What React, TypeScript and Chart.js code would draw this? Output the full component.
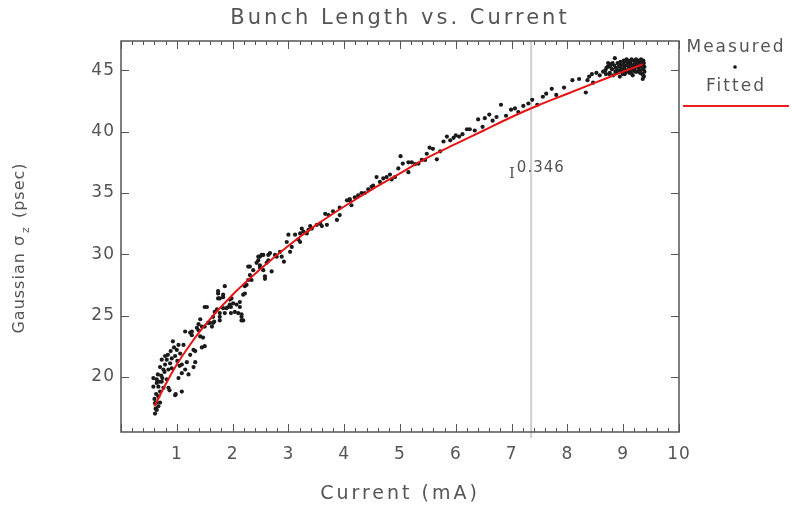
import React, { useEffect, useRef } from "react";
import { Chart, registerables } from "chart.js";

Chart.register(...registerables);

// ---- Data ----
const currentMeasured: number[] = [
  0.62, 0.67, 0.64, 0.61, 0.64, 0.61, 0.70, 0.67, 0.70, 0.58, 0.67, 0.64, 0.58, 0.64, 0.73, 0.76, 0.85, 0.87, 0.82, 0.98,
  1.09, 0.97, 1.03, 1.09, 1.21, 1.15, 0.70, 0.76, 0.85, 0.91, 0.79, 1.09, 0.73, 0.82, 0.88, 0.79, 0.91, 0.97, 1.06, 1.00,
  1.03, 1.12, 0.93, 1.18, 1.33, 1.30, 1.24, 1.30, 1.33, 1.50, 1.45, 1.24, 1.27, 1.42, 1.47, 1.15, 1.27, 1.39, 1.36, 1.39,
  1.45, 1.50, 1.63, 1.56, 1.59, 1.65, 1.67, 1.42, 1.77, 1.65, 1.77, 1.68, 1.72, 1.77, 1.86, 1.97, 1.50, 1.54, 1.83, 1.89,
  1.92, 1.97, 2.04, 2.10, 2.16, 2.16, 2.16, 2.19, 1.95, 2.01, 2.07, 2.13, 1.95, 1.77, 1.74, 1.98, 1.83, 1.83, 1.74, 2.13,
  2.19, 2.22, 1.74, 1.86, 2.22, 2.25, 2.34, 2.28, 2.31, 2.58, 2.58, 2.37, 2.55, 2.70, 2.49, 2.28, 2.31, 2.49, 2.43, 2.61,
  2.46, 2.64, 2.92, 2.49, 2.46, 2.79, 2.88, 2.52, 2.55, 2.64, 2.76, 2.67, 2.85, 3.03, 3.06, 2.97, 3.21, 3.18, 3.00, 3.12,
  3.21, 3.33, 3.27, 3.36, 3.24, 3.42, 3.39, 3.60, 3.51, 3.69, 3.57, 3.87, 3.72, 3.92, 3.66, 3.80, 3.92, 4.13, 4.05, 4.10,
  4.10, 4.19, 4.25, 4.31, 4.37, 4.43, 4.49, 4.52, 4.64, 4.85, 4.70, 4.58, 4.76, 4.91, 4.82, 5.15, 4.97, 5.27, 5.05, 5.33,
  5.15, 5.21, 5.39, 5.45, 5.66, 5.01, 5.48, 5.72, 5.59, 5.53, 5.78, 5.90, 5.96, 5.84, 6.06, 6.00, 6.12, 6.34, 6.20, 6.25,
  6.48, 6.66, 6.40, 6.52, 6.73, 6.90, 6.60, 7.12, 6.99, 7.06, 7.21, 6.81, 7.46, 7.30, 7.37, 7.56, 7.80, 7.62, 8.33, 7.72,
  7.94, 8.46, 8.09, 8.36, 8.21, 8.39, 8.58, 8.44, 8.52, 8.76, 8.64, 8.70,
  0.60, 0.63, 0.66, 0.72, 0.78, 0.84, 0.89, 0.95, 1.01, 1.05, 0.74, 0.69,
  8.68, 8.72, 8.75, 8.78, 8.80, 8.82, 8.84, 8.85, 8.87, 8.88, 8.90, 8.91, 8.93, 8.94, 8.95, 8.97, 8.98, 9.00, 9.01, 9.02,
  9.03, 9.05, 9.06, 9.07, 9.08, 9.10, 9.11, 9.12, 9.13, 9.14, 9.15, 9.16, 9.17, 9.18, 9.19, 9.20, 9.21, 9.22, 9.23, 9.24,
  9.25, 9.26, 9.27, 9.28, 9.29, 9.30, 9.31, 9.32, 9.33, 9.34, 9.35, 9.36, 9.36, 9.37, 9.37, 9.38, 9.38, 9.02, 8.96, 9.09,
  9.04, 9.13, 9.19, 9.27, 9.33, 8.92, 8.86, 8.99, 9.06, 9.15, 9.22, 9.30, 9.35, 9.36, 8.81, 8.76, 8.73, 8.69,
];

const sigmaMeasured: number[] = [
  17.4, 17.6, 17.9, 17.0, 17.3, 17.85, 17.9, 18.4, 18.8, 19.2, 19.2, 19.5, 19.9, 19.8, 19.6, 19.1, 19.1, 18.9, 19.8, 18.6,
  18.8, 18.5, 19.9, 20.3, 20.2, 20.6, 20.8, 20.6, 20.6, 20.7, 21.0, 21.0, 21.4, 21.4, 21.1, 21.7, 21.5, 21.7, 21.9, 22.2,
  22.6, 22.6, 22.9, 21.2, 21.2, 20.8, 21.8, 22.2, 22.1, 22.5, 22.4, 23.6, 23.4, 23.3, 23.2, 23.7, 23.7, 23.8, 24.0, 24.3,
  24.1, 24.1, 24.1, 24.4, 24.4, 24.4, 24.5, 24.7, 24.6, 24.9, 24.9, 25.3, 25.5, 25.2, 25.2, 25.2, 25.7, 25.7, 25.6, 25.6,
  25.7, 25.7, 25.3, 25.2, 25.1, 24.9, 24.6, 24.6, 25.9, 26.0, 25.9, 26.1, 26.3, 26.4, 26.4, 26.4, 26.5, 26.7, 26.8, 25.7,
  26.7, 26.8, 27.0, 27.4, 27.4, 27.5, 27.9, 27.9, 28.3, 28.0, 28.2, 28.7, 28.7, 28.6, 28.9, 29.0, 29.0, 29.1, 29.3, 29.3,
  29.5, 29.5, 29.4, 29.8, 29.8, 29.8, 29.8, 29.95, 29.95, 29.95, 29.95, 30.1, 30.2, 30.2, 30.6, 31.0, 31.0, 31.2, 31.6, 31.6,
  31.7, 31.7, 31.85, 32.0, 32.1, 32.1, 32.3, 32.3, 32.4, 32.4, 32.5, 32.8, 33.2, 33.2, 33.3, 33.5, 33.8, 34.0, 34.4, 34.4,
  34.5, 34.65, 34.8, 35.0, 35.0, 35.3, 35.5, 35.6, 35.9, 36.1, 36.2, 36.3, 36.3, 36.3, 36.5, 36.7, 37.0, 37.35, 37.4, 37.4,
  37.5, 37.5, 37.7, 37.7, 37.75, 38.0, 38.2, 38.4, 38.6, 38.7, 39.2, 39.3, 39.5, 39.6, 39.6, 39.7, 39.8, 40.1, 40.2, 40.2,
  40.4, 40.9, 41.0, 41.1, 41.2, 41.3, 41.4, 41.6, 41.8, 41.9, 42.1, 42.2, 42.2, 42.3, 42.6, 42.85, 43.0, 43.1, 43.2, 43.5,
  43.6, 44.0, 44.2, 44.2, 44.3, 44.5, 44.6, 44.7, 44.8, 44.8, 44.9, 45.2,
  18.2, 18.6, 20.2, 20.1, 20.4, 21.8, 22.1, 22.4, 21.3, 20.9, 19.9, 19.6,
  45.0, 45.3, 44.7, 45.5, 45.1, 44.6, 45.4, 46.0, 45.2, 44.8, 45.6, 45.0, 45.3, 44.5, 45.7, 45.1, 44.9, 45.5, 45.8, 45.2,
  44.7, 45.4, 45.9, 45.0, 45.6, 45.3, 44.8, 45.7, 45.1, 45.5, 45.9, 45.2, 44.6, 45.4, 45.8, 45.0, 45.6, 45.3, 45.9, 44.9,
  45.5, 45.7, 45.2, 45.8, 45.4, 45.0, 45.6, 45.9, 45.3, 44.7, 45.5, 45.8, 45.1, 44.5, 45.6, 44.9, 45.3, 45.7, 45.4, 45.8,
  45.0, 45.7, 45.1, 45.6, 45.7, 45.5, 44.9, 44.7, 44.9, 44.8, 44.9, 44.8, 44.3, 44.6, 45.6, 45.3, 45.6, 44.7,
];

const fitCurrent: number[] = [0.6, 0.8, 1, 1.25, 1.5, 2, 2.5, 3, 3.5, 4, 4.5, 5, 5.5, 6, 6.5, 7, 7.5, 8, 8.5, 9, 9.35];
const fitSigma: number[] = [17.6, 19.4, 21.0, 22.7, 24.2, 26.7, 28.8, 30.7, 32.4, 33.9, 35.3, 36.6, 37.9, 39.0, 40.1, 41.2, 42.2, 43.1, 44.0, 44.9, 45.5];

const markerCurrent = 7.35;
const exponentLabel = "0.346";
const exponentAt = { x: 6.97, y: 36.7 };

const titleText = "Bunch Length vs. Current";
const xTitleText = "Current (mA)";
const xTicks: number[] = [1, 2, 3, 4, 5, 6, 7, 8, 9, 10];
const yTicks: number[] = [20, 25, 30, 35, 40, 45];
const xMin = 0, xMax = 10, xMinorStep = 0.2;
const yMin = 15.5, yMax = 47.4;

const FONT = "'DejaVu Sans', sans-serif";
const TEXT = "#555";

const decor = {
  id: "decor",
  beforeLayout(chart: any) {
    chart.ctx.letterSpacing = "1px";
  },
  beforeDraw(chart: any) {
    const { ctx, width, height } = chart;
    ctx.letterSpacing = "1px";
    ctx.save();
    ctx.fillStyle = "#fff";
    ctx.fillRect(0, 0, width, height);
    ctx.restore();
  },
  beforeDatasetsDraw(chart: any) {
    const { ctx, chartArea: a, scales } = chart;
    const px = scales.x.getPixelForValue(markerCurrent);
    ctx.save();
    ctx.strokeStyle = "#cfcfcf";
    ctx.lineWidth = 2;
    ctx.beginPath();
    ctx.moveTo(px, a.top);
    ctx.lineTo(px, a.bottom + 6);
    ctx.stroke();
    ctx.restore();
  },
  afterDraw(chart: any) {
    const { ctx, chartArea: a, scales } = chart;
    const xs = scales.x, ys = scales.y;
    ctx.save();
    ctx.strokeStyle = "#555";
    ctx.lineWidth = 1.5;
    ctx.strokeRect(a.left, a.top, a.right - a.left, a.bottom - a.top);
    ctx.lineWidth = 1;
    ctx.beginPath();
    const n = Math.round((xMax - xMin) / xMinorStep);
    for (let i = 0; i <= n; i++) {
      const v = xMin + i * xMinorStep;
      const p = Math.round(xs.getPixelForValue(v)) + 0.5;
      const len = i % 5 === 0 ? 8 : 4;
      ctx.moveTo(p, a.bottom);
      ctx.lineTo(p, a.bottom - len);
      ctx.moveTo(p, a.top);
      ctx.lineTo(p, a.top + len);
    }
    for (const v of yTicks) {
      const p = Math.round(ys.getPixelForValue(v)) + 0.5;
      ctx.moveTo(a.left, p);
      ctx.lineTo(a.left + 8, p);
      ctx.moveTo(a.right, p);
      ctx.lineTo(a.right - 8, p);
    }
    ctx.stroke();

    const cx = (a.left + a.right) / 2;

    // title
    ctx.fillStyle = TEXT;
    ctx.textAlign = "center";
    ctx.textBaseline = "middle";
    ctx.letterSpacing = "3px";
    ctx.font = `21px ${FONT}`;
    ctx.fillText(titleText, cx, 19);

    // x axis title
    ctx.letterSpacing = "3px";
    ctx.font = `19px ${FONT}`;
    ctx.fillText(xTitleText, cx, 494);

    // exponent annotation
    ctx.letterSpacing = "1px";
    ctx.textBaseline = "alphabetic";
    ctx.textAlign = "left";
    const ax = xs.getPixelForValue(exponentAt.x);
    const ay = ys.getPixelForValue(exponentAt.y);
    ctx.font = `15px 'DejaVu Serif', serif`;
    ctx.fillText("I", ax - 1, ay + 6);
    const iw = ctx.measureText("I").width;
    ctx.font = `15px ${FONT}`;
    ctx.fillText(exponentLabel, ax - 1 + iw + 1, ay);

    // y axis title with subscript
    ctx.save();
    const cy = 248;
    ctx.translate(20, cy);
    ctx.rotate(-Math.PI / 2);
    ctx.textBaseline = "middle";
    ctx.letterSpacing = "1px";
    const big = `16px ${FONT}`;
    const small = `11px ${FONT}`;
    ctx.font = big;
    const p1 = "Gaussian σ";
    const p3 = " (psec)";
    const w1 = ctx.measureText(p1).width + 2;
    const w3 = ctx.measureText(p3).width;
    ctx.font = small;
    const w2 = ctx.measureText("z").width + 2;
    let sx = -(w1 + w2 + w3) / 2;
    ctx.font = big;
    ctx.fillText(p1, sx, 0);
    sx += w1;
    ctx.font = small;
    ctx.fillText("z", sx, 6);
    sx += w2;
    ctx.font = big;
    ctx.fillText(p3, sx, 0);
    ctx.restore();

    // legend
    ctx.textAlign = "center";
    ctx.textBaseline = "middle";
    ctx.letterSpacing = "2px";
    ctx.font = `17px ${FONT}`;
    ctx.fillStyle = TEXT;
    ctx.fillText("Measured", 736, 48);
    ctx.fillText("Fitted", 736, 87);
    ctx.fillStyle = "#111";
    ctx.beginPath();
    ctx.arc(735, 67, 1.8, 0, Math.PI * 2);
    ctx.fill();
    ctx.strokeStyle = "rgb(235,30,30)";
    ctx.lineWidth = 2;
    ctx.beginPath();
    ctx.moveTo(683, 106);
    ctx.lineTo(789, 106);
    ctx.stroke();
    ctx.restore();
  },
};

export default function App() {
  const ref = useRef<HTMLCanvasElement | null>(null);
  useEffect(() => {
    if (!ref.current) return;
    const chart = new Chart(ref.current, {
      type: "scatter",
      data: {
        datasets: [
          {
            type: "line",
            label: "Fitted",
            data: fitCurrent.map((x, i) => ({ x, y: fitSigma[i] })),
            borderColor: "rgb(230,20,20)",
            borderWidth: 2,
            pointRadius: 0,
            cubicInterpolationMode: "monotone",
            fill: false,
            order: 1,
          } as any,
          {
            type: "scatter",
            label: "Measured",
            data: currentMeasured.map((x, i) => ({ x, y: sigmaMeasured[i] })),
            backgroundColor: "#1a1a1a",
            borderWidth: 0,
            pointRadius: 2.1,
            order: 2,
          },
        ],
      },
      options: {
        animation: false,
        responsive: false,
        devicePixelRatio: 1,
        layout: { padding: { left: 0, right: 113, top: 41, bottom: 0 } },
        plugins: {
          legend: { display: false },
          tooltip: { enabled: false },
          title: { display: false },
        },
        scales: {
          x: {
            type: "linear",
            min: xMin,
            max: xMax,
            afterBuildTicks: (s: any) => {
              s.ticks = xTicks.map((v) => ({ value: v }));
            },
            afterFit: (s: any) => {
              s.height = 76;
            },
            grid: { display: false, drawTicks: false },
            border: { display: false },
            ticks: {
              color: TEXT,
              font: { family: FONT, size: 17 },
              padding: 12,
              maxRotation: 0,
              autoSkip: false,
              callback: (v: any) => String(v),
            },
          },
          y: {
            type: "linear",
            min: yMin,
            max: yMax,
            afterBuildTicks: (s: any) => {
              s.ticks = yTicks.map((v) => ({ value: v }));
            },
            afterFit: (s: any) => {
              s.width = 121;
            },
            grid: { display: false, drawTicks: false },
            border: { display: false },
            ticks: {
              color: TEXT,
              font: { family: FONT, size: 17 },
              padding: 6,
              autoSkip: false,
              callback: (v: any) => String(v),
            },
          },
        },
      },
      plugins: [decor],
    });
    return () => chart.destroy();
  }, []);
  return (
    <div style={{ position: "fixed", left: 0, top: 0, width: 792, height: 508, background: "#fff" }}>
      <canvas ref={ref} width={792} height={508} style={{ display: "block" }} />
    </div>
  );
}
